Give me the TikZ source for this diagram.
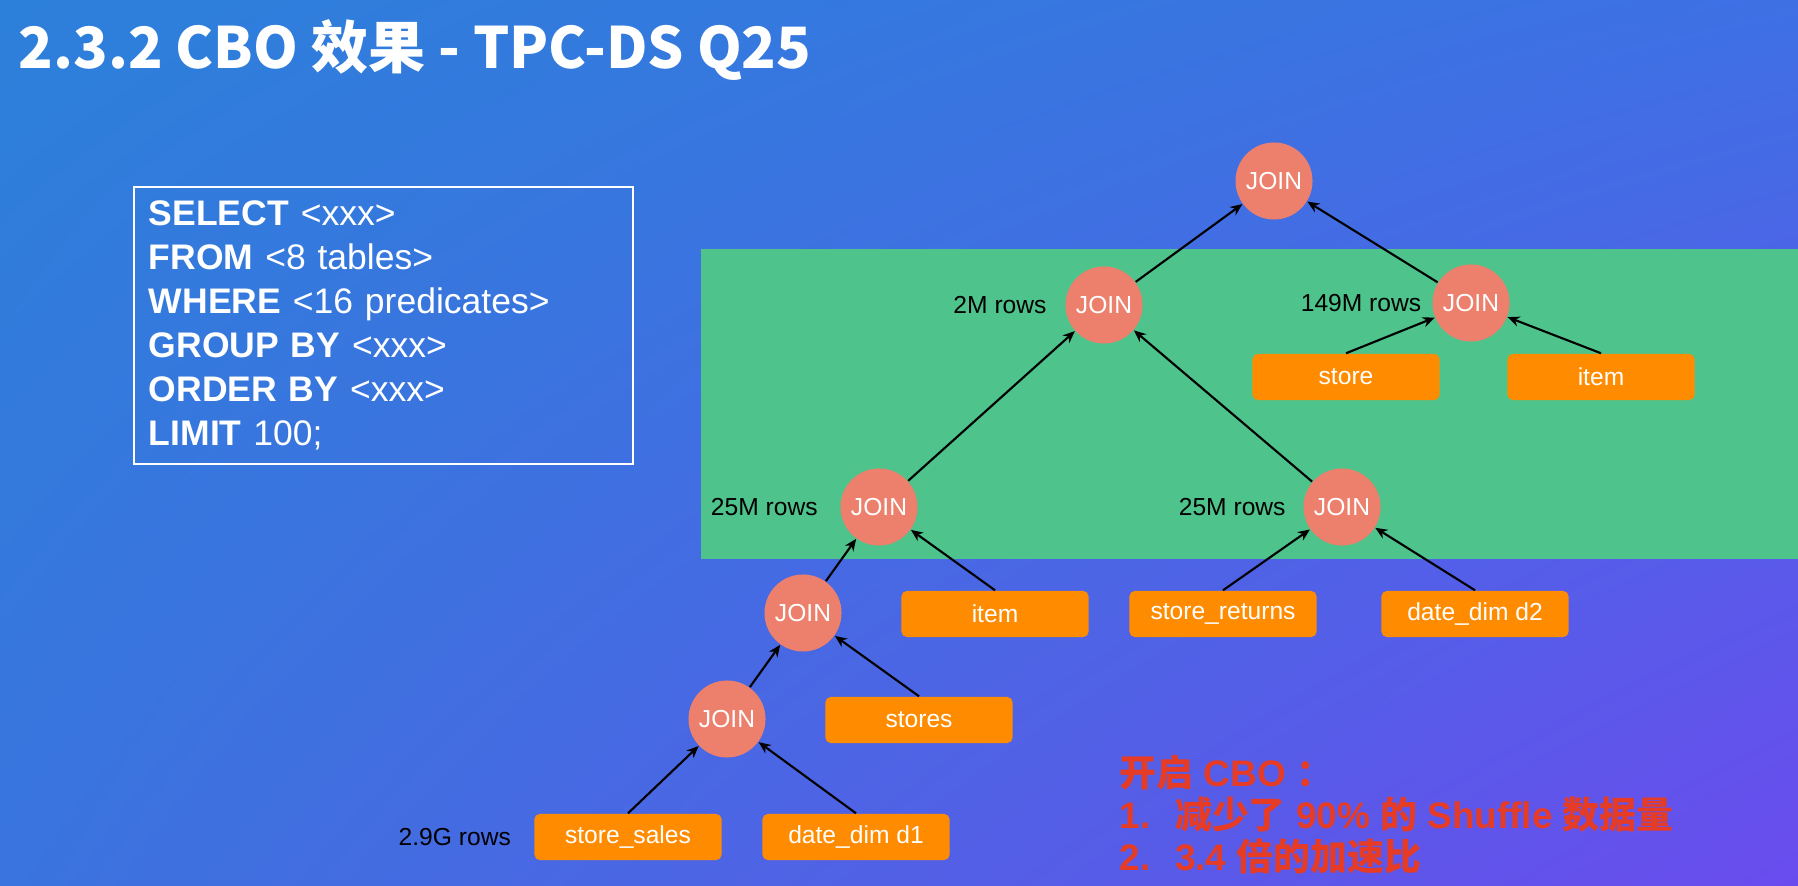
\documentclass[tikz,border=0pt]{standalone}
\usepackage{fontspec}
\setmainfont{Liberation Sans}
\newfontfamily\cjk{Noto Sans CJK SC}
\usetikzlibrary{arrows.meta,positioning,shadings}
\definecolor{bgtl}{RGB}{44,128,218}
\definecolor{bgtr}{RGB}{62,112,228}
\definecolor{bgbl}{RGB}{58,116,222}
\definecolor{bgbr}{RGB}{106,76,238}
\definecolor{greenbg}{RGB}{78,195,140}
\definecolor{joinc}{RGB}{236,128,108}
\definecolor{tblc}{RGB}{255,140,0}
\definecolor{redtxt}{RGB}{230,60,38}

\begin{document}
\begin{tikzpicture}[x=0.01cm,y=-0.01cm,>={Stealth[length=3.4pt,width=2.9pt]},
  joinnode/.style={circle,fill=joinc,text=white,minimum size=0.77cm,inner sep=0pt,
    font=\fontsize{7}{8.4}\selectfont},
  tbl/.style={rectangle,rounded corners=1.5pt,fill=tblc,text=white,minimum width=1.87cm,
    minimum height=0.46cm,inner sep=0pt,font=\fontsize{7}{8.4}\selectfont},
  rows/.style={text=black,inner sep=0pt,font=\fontsize{7}{8.4}\selectfont},
  flow/.style={->,line width=0.6pt}]
  \useasboundingbox (0,0) rectangle (1798,886);
  \shade[upper left=bgtl,upper right=bgtr,lower left=bgbl,lower right=bgbr] (0,0) rectangle (1798,886);
  \fill[greenbg] (701,249) rectangle (1798,559);

  \node[anchor=base west,text=white,inner sep=0pt,font=\cjk\bfseries\fontsize{16.2}{19}\selectfont] (title) at (18,69)
  {2.3.2 CBO 效果 - TPC-DS Q25};

  \node[draw=white,line width=0.7pt,text=white,text width=4.69cm,inner xsep=0.15cm,minimum height=2.77cm,
    align=left,font=\fontsize{10.1}{12.5}\selectfont] (sql) at (383.5,325.5)
  {\textbf{SELECT} <xxx>\\ \textbf{FROM} <8 tables>\\ \textbf{WHERE} <16 predicates>\\
   \textbf{GROUP BY} <xxx>\\ \textbf{ORDER BY} <xxx>\\ \textbf{LIMIT} 100;};

  % join tree
  \node[joinnode] (j0) at (1274,181) {JOIN};
  \node[joinnode,label={[rows,label distance=5pt]left:2M rows}] (j1) at (1104,305) {JOIN};
  \node[joinnode,label={[rows,label distance=2.8pt]left:149M rows}] (j2) at (1471,303) {JOIN};
  \node[joinnode,label={[rows,label distance=6.1pt]left:25M rows}] (j3) at (879,507) {JOIN};
  \node[joinnode,label={[rows,label distance=4.7pt]left:25M rows}] (j4) at (1342,507) {JOIN};
  \node[joinnode] (j5) at (803,613) {JOIN};
  \node[joinnode] (j6) at (727,719) {JOIN};

  \node[tbl] (st) at (1346,377) {store};
  \node[tbl] (ita) at (1601,377) {item};
  \node[tbl] (itb) at (995,614) {item};
  \node[tbl] (sr) at (1223,614) {store\_returns};
  \node[tbl] (dd2) at (1475,614) {date\_dim d2};
  \node[tbl] (sto) at (919,720) {stores};
  \node[tbl,label={[rows,label distance=6.3pt]left:2.9G rows}] (ss) at (628,837) {store\_sales};
  \node[tbl] (dd1) at (856,837) {date\_dim d1};

  \draw[flow] (j1) -- (j0);
  \draw[flow] (j2) -- (j0);
  \draw[flow] (st.north) -- (j2);
  \draw[flow] (ita.north) -- (j2);
  \draw[flow] (j3) -- (j1);
  \draw[flow] (j4) -- (j1);
  \draw[flow] (j5) -- (j3);
  \draw[flow] (itb.north) -- (j3);
  \draw[flow] (sr.north) -- (j4);
  \draw[flow] (dd2.north) -- (j4);
  \draw[flow] (j6) -- (j5);
  \draw[flow] (sto.north) -- (j5);
  \draw[flow] (ss.north) -- (j6);
  \draw[flow] (dd1.north) -- (j6);

  \node[anchor=north west,text=redtxt,inner sep=0pt,align=left,font=\bfseries\fontsize{10.5}{12}\selectfont] (note) at (1119,754)
  {{\cjk 开启} CBO {\cjk ：}\\ 1.\enspace\thinspace{\cjk 减少了} 90\% {\cjk 的} Shuffle {\cjk 数据量}\\ 2.\enspace\thinspace 3.4 {\cjk 倍的加速比}};
\end{tikzpicture}
\end{document}
